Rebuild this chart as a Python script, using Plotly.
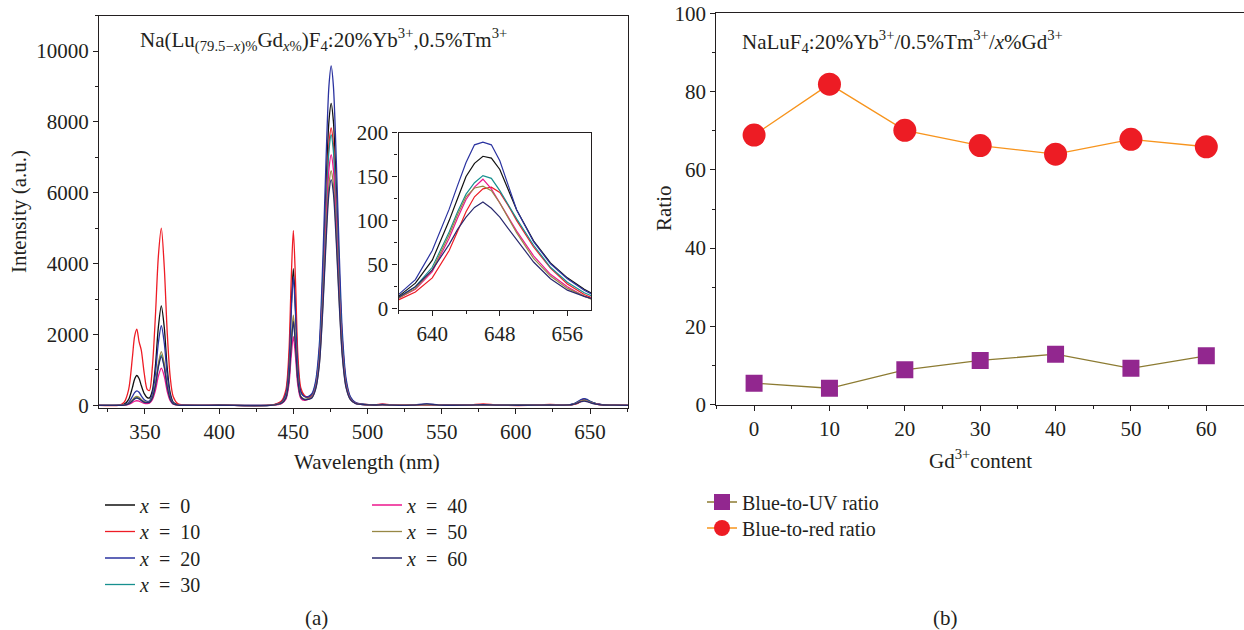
import plotly.graph_objects as go

W, H = 1244, 630
FONT = "Liberation Serif"
INK = "#231F20"

# ---------------- data: panel (a) emission spectra ----------------
wl_main = [319, 333, 336, 339, 341.5, 343, 344.5, 346, 347.5, 349.5, 351.5, 353, 355, 357, 359, 361, 363, 365, 367, 369, 372, 376,
           400,
           436, 442, 445, 447, 448.5, 450, 451.5, 453, 455, 457.5, 460, 462.5, 465, 467.5, 470, 472, 474, 475.5, 477, 479, 481, 483, 485.5, 488.5, 492,
           498, 505, 510, 516, 530, 540, 548, 568, 578, 588, 615, 623, 630]
wl_inset = [636, 638, 640, 642, 643, 644, 645, 646, 647, 648, 649, 650, 652, 654, 656, 658, 659]
wl_end = [666, 676]

main_x0 = [0, 5, 35, 170, 500, 740, 843, 760, 560, 330, 220, 210, 420, 1100, 2200, 2810, 2200, 1050, 350, 90, 20, 5,
           3,
           10, 100, 350, 1160, 2700, 3860, 2700, 1160, 400, 250, 240, 300, 600, 1510, 3760, 6120, 8020, 8527, 8020, 6120, 3760, 1860, 680, 215, 70,
           25, 12, 20, 10, 6, 18, 8, 6, 18, 6, 5, 12, 8]
main_x10 = [0, 10, 90, 450, 1350, 1950, 2155, 1800, 1560, 900, 450, 420, 1100, 2500, 4200, 5002, 3900, 2050, 800, 250, 50, 10,
            3,
            15, 125, 445, 1480, 3460, 4937, 3460, 1480, 500, 280, 230, 280, 560, 1390, 3450, 5620, 7370, 7832, 7370, 5620, 3450, 1710, 630, 200, 65,
            25, 14, 40, 12, 7, 18, 9, 8, 45, 8, 6, 30, 8]
main_x20 = [0, 3, 18, 85, 250, 360, 412, 370, 270, 160, 115, 125, 330, 880, 1760, 2248, 1760, 840, 280, 70, 15, 3,
            3,
            10, 90, 330, 1090, 2540, 3625, 2540, 1090, 380, 250, 250, 330, 680, 1700, 4230, 6880, 9020, 9584, 9020, 6880, 4230, 2090, 770, 240, 80,
            30, 14, 25, 10, 6, 45, 10, 6, 22, 6, 5, 12, 9]
main_x30 = [0, 2, 10, 45, 135, 200, 225, 200, 150, 95, 80, 90, 215, 560, 1110, 1424, 1110, 530, 180, 45, 10, 2,
            3,
            7, 60, 220, 720, 1690, 2407, 1690, 720, 250, 170, 190, 250, 540, 1350, 3370, 5480, 7180, 7635, 7180, 5480, 3370, 1660, 610, 190, 60,
            22, 11, 20, 9, 5, 22, 8, 6, 18, 6, 5, 10, 8]
main_x40 = [0, 1, 6, 27, 80, 117, 131, 118, 88, 58, 50, 60, 160, 415, 820, 1049, 820, 390, 130, 32, 7, 1,
            3,
            5, 50, 175, 580, 1360, 1939, 1360, 580, 200, 140, 170, 230, 500, 1250, 3120, 5080, 6660, 7081, 6660, 5080, 3120, 1540, 570, 180, 57,
            20, 10, 22, 9, 5, 20, 8, 6, 20, 6, 5, 12, 7]
main_x50 = [0, 2, 11, 50, 150, 225, 253, 225, 168, 105, 85, 95, 230, 600, 1180, 1518, 1180, 565, 190, 48, 10, 2,
            3,
            7, 65, 230, 765, 1780, 2548, 1780, 765, 260, 170, 175, 220, 465, 1170, 2920, 4750, 6230, 6623, 6230, 4750, 2920, 1440, 530, 165, 53,
            20, 10, 20, 9, 5, 22, 8, 6, 18, 6, 5, 10, 7]
main_x60 = [0, 2, 9, 41, 124, 183, 206, 185, 137, 87, 75, 85, 210, 545, 1075, 1377, 1075, 515, 175, 44, 10, 2,
            3,
            7, 60, 210, 710, 1650, 2360, 1650, 710, 240, 160, 170, 210, 450, 1130, 2810, 4570, 5990, 6370, 5990, 4570, 2810, 1390, 510, 160, 51,
            20, 10, 20, 9, 5, 40, 9, 6, 18, 6, 5, 10, 8]

inset_x0 = [14, 29, 55, 100, 125, 150, 165, 173, 171, 158, 135, 112, 77, 52, 35, 22, 17]
inset_x10 = [10, 19, 35, 66, 88, 110, 127, 136, 138, 132, 117, 100, 70, 46, 28, 16, 12]
inset_x20 = [16, 33, 66, 113, 140, 166, 186, 189, 186, 168, 140, 112, 76, 51, 34, 21, 16]
inset_x30 = [13, 25, 47, 87, 110, 130, 143, 151, 148, 134, 118, 102, 72, 47, 30, 18, 14]
inset_x40 = [12, 22, 42, 80, 103, 124, 138, 147, 136, 120, 103, 88, 60, 39, 25, 14, 11]
inset_x50 = [12, 23, 44, 84, 107, 127, 137, 139, 134, 120, 103, 86, 57, 37, 23, 14, 10]
inset_x60 = [13, 25, 44, 73, 90, 104, 115, 121, 114, 104, 91, 78, 53, 34, 21, 14, 11]
end_vals = [5, 2]

NB = "\u2002"
series_labels = [f"<i>x</i>{NB}={NB}0", f"<i>x</i>{NB}={NB}10", f"<i>x</i>{NB}={NB}20", f"<i>x</i>{NB}={NB}30",
                 f"<i>x</i>{NB}={NB}40", f"<i>x</i>{NB}={NB}50", f"<i>x</i>{NB}={NB}60"]
series_colors = ["#111111", "#EE1C25", "#2B33A0", "#17908F", "#EC168C", "#978845", "#2A2A6E"]
main_series = [main_x0, main_x10, main_x20, main_x30, main_x40, main_x50, main_x60]
inset_series = [inset_x0, inset_x10, inset_x20, inset_x30, inset_x40, inset_x50, inset_x60]

# ---------------- data: panel (b) ratios ----------------
gd_content = [0, 10, 20, 30, 40, 50, 60]
blue_to_uv = [5.5, 4.2, 8.9, 11.3, 12.9, 9.3, 12.5]
blue_to_red = [68.9, 81.9, 70.1, 66.2, 64.0, 67.8, 65.9]


def px_x(p):
    return p / W


def px_y(p):
    return 1 - p / H


# legend entry anchor positions (px): left edge, row centre
legend_pos = [(100, 505), (100, 531.5), (100, 558), (100, 584.5),
              (367, 505), (367, 531.5), (367, 558),
              (702, 502), (702, 528)]

fig = go.Figure()

for i, (lab, col, ms, ins) in enumerate(zip(series_labels, series_colors, main_series, inset_series)):
    fig.add_trace(go.Scatter(
        x=wl_main + wl_inset + wl_end, y=ms + ins + end_vals,
        mode="lines", line=dict(color=col, width=1.3, shape="spline", smoothing=0.8),
        name=lab, legend="legend" if i == 0 else f"legend{i + 1}",
        xaxis="x", yaxis="y", hoverinfo="skip"))
for col, ins in zip(series_colors, inset_series):
    fig.add_trace(go.Scatter(
        x=wl_inset, y=ins, mode="lines", line=dict(color=col, width=1.2),
        showlegend=False, xaxis="x2", yaxis="y2", hoverinfo="skip"))

fig.add_trace(go.Scatter(
    x=gd_content, y=blue_to_uv, mode="lines+markers", name="Blue-to-UV ratio",
    line=dict(color="#8C7B32", width=1.3),
    marker=dict(symbol="square", size=17, color="#92278F"),
    xaxis="x3", yaxis="y3", legend="legend8", hoverinfo="skip"))
fig.add_trace(go.Scatter(
    x=gd_content, y=blue_to_red, mode="lines+markers", name="Blue-to-red ratio",
    line=dict(color="#F7941D", width=1.3),
    marker=dict(symbol="circle", size=23, color="#ED1C24"),
    xaxis="x3", yaxis="y3", legend="legend9", hoverinfo="skip"))

FS = 21
tickfont = dict(family=FONT, size=FS, color=INK)


def axis(**kw):
    base = dict(showgrid=False, zeroline=False, showline=True, linecolor=INK, linewidth=1.2,
                ticks="outside", ticklen=5, tickwidth=1.2, tickcolor=INK, tickfont=tickfont,
                mirror=True, automargin=False)
    base.update(kw)
    return base


def minor(d, t0):
    return dict(dtick=d, tick0=t0, ticks="outside", ticklen=3, tickwidth=1, tickcolor=INK, showgrid=False)


legend_common = dict(font=dict(family=FONT, size=20, color=INK), bgcolor="rgba(0,0,0,0)",
                     xanchor="left", yanchor="middle", tracegroupgap=0, itemwidth=30)
legends = {}
for k, (lx, ly) in enumerate(legend_pos):
    key = "legend" if k == 0 else f"legend{k + 1}"
    legends[key] = dict(legend_common, x=px_x(lx), y=px_y(ly))

fig.update_layout(
    width=W, height=H, margin=dict(l=0, r=0, t=0, b=0, pad=0, autoexpand=False),
    paper_bgcolor="white", plot_bgcolor="white", showlegend=True,
    xaxis=axis(domain=[px_x(99), px_x(628)], range=[319, 675.6], tick0=350, dtick=50,
               minor=minor(25, 325), anchor="y"),
    yaxis=axis(domain=[px_y(407.5), px_y(15.7)], range=[-60, 11000], tick0=0, dtick=2000,
               tickformat="d", minor=minor(1000, 0), anchor="x"),
    xaxis2=axis(domain=[px_x(398.5), px_x(591)], range=[636, 658.8], tick0=640, dtick=8,
                minor=minor(4, 636), anchor="y2"),
    yaxis2=axis(domain=[px_y(310), px_y(132.5)], range=[-1.5, 200], tick0=0, dtick=50,
                minor=minor(25, 0), anchor="x2"),
    xaxis3=axis(domain=[px_x(716.4), 1.0], range=[-5, 65], tick0=0, dtick=10,
                minor=minor(5, -5), anchor="y3", mirror=True),
    yaxis3=axis(domain=[px_y(404.7), px_y(13.3)], range=[0, 100], tick0=0, dtick=20,
                minor=minor(10, 0), anchor="x3", mirror=False),
    **legends,
)

annots = [
    dict(x=px_x(138), y=px_y(40), xanchor="left", yanchor="middle",
         text="Na(Lu<sub>(79.5−<i>x</i>)%</sub>Gd<sub><i>x</i>%</sub>)F<sub>4</sub>:20%Yb<sup>3+</sup>,0.5%Tm<sup>3+</sup>"),
    dict(x=px_x(740), y=px_y(42), xanchor="left", yanchor="middle",
         text="NaLuF<sub>4</sub>:20%Yb<sup>3+</sup>/0.5%Tm<sup>3+</sup>/<i>x</i>%Gd<sup>3+</sup>"),
    dict(x=px_x(367), y=px_y(462), xanchor="center", yanchor="middle", text="Wavelength (nm)"),
    dict(x=px_x(19), y=px_y(212), xanchor="center", yanchor="middle", text="Intensity (a.u.)", textangle=-90),
    dict(x=px_x(980), y=px_y(459), xanchor="center", yanchor="middle", text="Gd<sup>3+</sup>content"),
    dict(x=px_x(664), y=px_y(208), xanchor="center", yanchor="middle", text="Ratio", textangle=-90),
    dict(x=px_x(316), y=px_y(618), xanchor="center", yanchor="middle", text="(a)"),
    dict(x=px_x(946), y=px_y(618), xanchor="center", yanchor="middle", text="(b)"),
]
for a in annots:
    fig.add_annotation(xref="paper", yref="paper", showarrow=False,
                       font=dict(family=FONT, size=FS, color=INK), **a)

fig.write_html("out.html", config={"displayModeBar": False},
               post_script="document.body.style.margin='0';document.body.style.overflow='hidden';")
